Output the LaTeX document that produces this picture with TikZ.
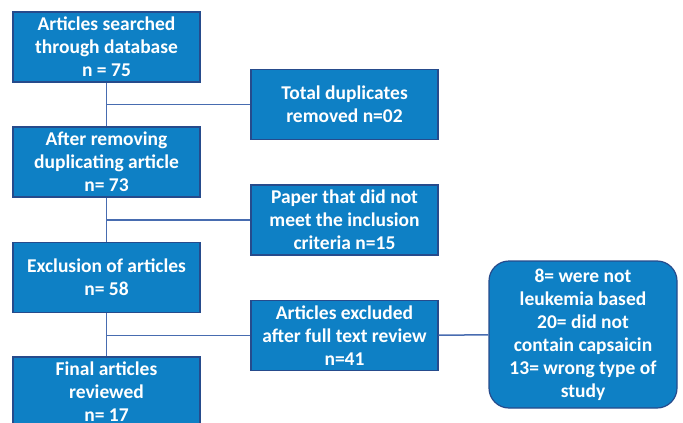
\documentclass[tikz,border=0pt]{standalone}
\usepackage{fontspec}
\setmainfont{Carlito}
\usetikzlibrary{positioning,calc}

\definecolor{boxblue}{RGB}{14,128,197}
\definecolor{edgeblue}{RGB}{38,75,140}
\definecolor{lineblue}{RGB}{72,108,176}

\begin{document}
\begin{tikzpicture}[x=1pt,y=-1pt,
  stage/.style={draw=edgeblue,line width=1.2pt,fill=boxblue,text=white,
    minimum width=187pt,minimum height=70pt,align=center,inner sep=0pt,
    font=\bfseries\fontsize{19.5}{23}\selectfont},
  outcome/.style={stage,rounded corners=20pt,minimum width=188pt,minimum height=147pt},
  link/.style={draw=lineblue,line width=1.5pt}]
\useasboundingbox (0,0) rectangle (683,423);
\clip (0,0) rectangle (683,423);
% main column
\node[stage] (search) at (106.5,47) {Articles searched\\through database\\n = 75};
\node[stage] (dedup) at (106.5,162) {After removing\\duplicating article\\n= 73};
\node[stage] (exclude) at (106.5,277.5) {Exclusion of articles\\n= 58};
\node[stage] (final) at (106.5,392) {Final articles\\reviewed\\n= 17};
% side boxes
\node[stage] (dups) at (344.5,104.5) {Total duplicates\\removed n=02};
\node[stage] (criteria) at (344.5,220) {Paper that did not\\meet the inclusion\\criteria n=15};
\node[stage] (fulltext) at (344.5,335.5) {Articles excluded\\after full text review\\n=41};
\node[outcome] (reasons) at (583,334.5) {8= were not\\leukemia based\\20= did not\\contain capsaicin\\13= wrong type of\\study};
% connectors
\draw[link] (search) -- (dedup);
\draw[link] (dedup) -- (exclude);
\draw[link] (exclude) -- (final);
\draw[link] (search.south |- dups) -- (dups);
\draw[link] (dedup.south |- criteria) -- (criteria);
\draw[link] (exclude.south |- fulltext) -- (fulltext);
\draw[link] (fulltext) -- (reasons);
\end{tikzpicture}
\end{document}
